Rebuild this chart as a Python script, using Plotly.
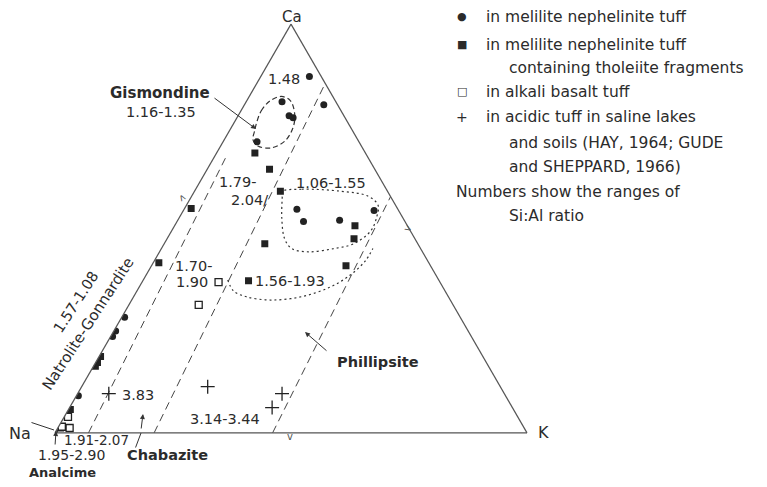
import plotly.graph_objects as go

# the page body has an 8 px margin, so the figure is drawn 16 px smaller
OFF = 8
W, H = 767 - 2 * OFF, 487 - 2 * OFF
FONT = "DejaVu Sans"
INK = "#2b2b2b"

# Zeolite compositions (percent Ca, Na, K)
circ_ca = [87.2, 80.3, 81.0, 77.6, 77.1, 71.2, 54.7, 51.7, 52.0, 54.4, 28.3, 24.9, 23.6, 9.1]
circ_na = [2.5, 2.9, 11.4, 11.6, 11.0, 21.6, 21.4, 21.5, 13.7, 5.2, 71.1, 74.7, 76.0, 90.5]
circ_k = [10.3, 16.8, 7.6, 10.8, 11.9, 7.2, 23.9, 26.8, 34.3, 40.4, 0.6, 0.4, 0.4, 0.4]

sq_ca = [68.5, 64.5, 59.1, 54.9, 50.7, 47.5, 46.3, 41.6, 37.2, 40.9, 18.7, 17.2, 16.3, 5.7]
sq_na = [23.4, 22.3, 22.7, 43.7, 11.1, 12.9, 32.4, 57.2, 40.4, 17.9, 81.0, 82.4, 83.3, 93.9]
sq_k = [8.1, 13.2, 18.2, 1.4, 38.2, 39.6, 21.3, 1.2, 22.4, 41.2, 0.3, 0.4, 0.4, 0.4]

open_ca = [36.9, 31.3, 3.9, 1.5, 1.2]
open_na = [46.9, 53.9, 95.3, 97.8, 96.3]
open_k = [16.2, 14.8, 0.8, 0.7, 2.5]

plus_ca = [9.6, 11.3, 9.6, 6.2, 0.5]
plus_na = [83.8, 62.0, 47.1, 50.9, 99.3]
plus_k = [6.6, 26.7, 43.3, 42.9, 0.2]

# field boundaries (dashed)
bounds = [
    ([0, 67.2], [92.9, 30.3], [7.1, 2.5]),
    ([0, 85.5], [79.0, 0.0], [21.0, 14.5]),
    ([0, 57.8], [53.9, 0.0], [46.1, 42.2]),
]

# Gismondine field (dashed ellipse)
gis_ca = [75.4, 78.8, 81.3, 82.3, 81.3, 77.8, 74.6, 71.4, 69.7, 70.2, 71.7, 74.1, 75.4]
gis_na = [19.7, 16.9, 13.7, 10.9, 9.5, 10.3, 12.3, 15.6, 19.4, 21.9, 22.2, 20.6, 19.7]
gis_k = [4.9, 4.3, 5.0, 6.8, 9.2, 11.9, 13.1, 13.0, 10.9, 7.9, 6.1, 5.3, 4.9]

# dotted groups
g1_ca = [59.1, 59.6, 59.1, 57.9, 55.7, 53.0, 49.5, 46.3, 45.1, 44.3, 45.1, 47.5, 52.5, 58.1, 59.1]
g1_na = [22.3, 17.9, 9.7, 4.7, 3.7, 5.3, 8.3, 13.5, 18.3, 24.2, 27.3, 27.6, 25.7, 22.8, 22.3]
g1_k = [18.6, 22.5, 31.2, 37.4, 40.6, 41.7, 42.2, 40.2, 36.6, 31.5, 27.6, 24.9, 21.8, 19.1, 18.6]

g2_ca = [37.4, 34.7, 33.3, 32.5, 33.3, 35.7, 38.7, 42.1, 45.1]
g2_na = [44.7, 44.8, 42.8, 38.0, 31.2, 23.8, 18.0, 13.2, 10.1]
g2_k = [17.9, 20.5, 23.9, 29.5, 35.5, 40.5, 43.3, 44.7, 44.8]

fig = go.Figure()

for ca, na, k in bounds:
    fig.add_trace(go.Scatterternary(a=ca, b=na, c=k, mode="lines",
                                    line=dict(color="#444", width=1, dash="8px,5px")))

fig.add_trace(go.Scatterternary(a=gis_ca, b=gis_na, c=gis_k, mode="lines",
                                line=dict(color="#333", width=1.2, dash="5px,3px", shape="spline")))
fig.add_trace(go.Scatterternary(a=g1_ca, b=g1_na, c=g1_k, mode="lines",
                                line=dict(color="#333", width=1.2, dash="2px,3px", shape="spline")))
fig.add_trace(go.Scatterternary(a=g2_ca, b=g2_na, c=g2_k, mode="lines",
                                line=dict(color="#333", width=1.2, dash="2px,3px", shape="spline")))

fig.add_trace(go.Scatterternary(a=circ_ca, b=circ_na, c=circ_k, mode="markers",
                                marker=dict(symbol="circle", size=7, color="#222")))
fig.add_trace(go.Scatterternary(a=sq_ca, b=sq_na, c=sq_k, mode="markers",
                                marker=dict(symbol="square", size=7, color="#222")))
fig.add_trace(go.Scatterternary(a=open_ca, b=open_na, c=open_k, mode="markers",
                                marker=dict(symbol="square-open", size=7, color="#222",
                                            line=dict(width=1.3))))
fig.add_trace(go.Scatterternary(a=plus_ca, b=plus_na, c=plus_k, mode="markers",
                                marker=dict(symbol="cross-thin-open", size=10, color="#222",
                                            line=dict(width=1.3, color="#222"))))

axis = dict(showticklabels=False, showgrid=False, ticks="", linecolor="#555",
            linewidth=1.2, title="")
fig.update_layout(
    width=W, height=H, margin=dict(l=0, r=0, t=0, b=0),
    paper_bgcolor="white", showlegend=False,
    ternary=dict(sum=100, bgcolor="white",
                 domain=dict(x=[(55 - OFF) / W, (527 - OFF) / W],
                             y=[1 - (433 - OFF) / H, 1 - (24 - OFF) / H]),
                 aaxis=axis, baxis=axis, caxis=axis),
)


def fx(x):
    return (x - OFF) / W


def fy(y):
    return 1 - (y - OFF) / H


def label(text, x, y, size=14, angle=0, xanchor="center", color=INK):
    fig.add_annotation(text=text, x=fx(x), y=fy(y), xref="paper", yref="paper",
                       showarrow=False, textangle=angle, xanchor=xanchor, yanchor="middle",
                       font=dict(family=FONT, size=size, color=color))


def arrow(x, y, ax, ay, head=2):
    fig.add_annotation(text="", x=fx(x), y=fy(y), xref="paper", yref="paper",
                       ax=ax - x, ay=ay - y, showarrow=True, arrowhead=head,
                       arrowwidth=1, arrowsize=1, arrowcolor="#333")


# corner labels
label("Ca", 292, 17, size=15)
label("Na", 20, 433, size=16)
label("K", 543, 432, size=16)

# legend
LS = 15.5
label("●", 462, 17, size=11)
label("in melilite nephelinite tuff", 484, 17, size=LS, xanchor="left")
label("■", 462, 45, size=11)
label("in melilite nephelinite tuff", 484, 45, size=LS, xanchor="left")
label("containing tholeiite fragments", 507, 68, size=LS, xanchor="left")
label("□", 462, 92, size=11)
label("in alkali basalt tuff", 484, 92, size=LS, xanchor="left")
label("+", 462, 117, size=14)
label("in acidic tuff in saline lakes", 484, 117, size=LS, xanchor="left")
label("and soils (HAY, 1964; GUDE", 507, 143, size=LS, xanchor="left")
label("and SHEPPARD, 1966)", 507, 167, size=LS, xanchor="left")
label("Numbers show the ranges of", 454, 192, size=LS, xanchor="left")
label("Si:Al ratio", 507, 216, size=LS, xanchor="left")

# field labels
label("<b>Gismondine</b>", 160, 93, size=15)
label("1.16-1.35", 161, 112, size=14.5)
label("1.48", 284, 79, size=14.5)
label("1.79-", 217, 182, size=14.5, xanchor="left")
label("2.04/", 229, 200, size=14.5, xanchor="left")
label("1.06-1.55", 331, 183, size=14.5)
label("1.70-", 173, 266, size=14.5, xanchor="left")
label("1.90", 174, 282, size=14.5, xanchor="left")
label("1.56-1.93", 290, 281, size=14.5)
label("Natrolite-Gonnardite", 88, 324, size=15, angle=-57)
label("1.57-1.08", 76, 302, size=14.5, angle=-57)
label("3.83", 138, 395, size=14.5)
label("3.14-3.44", 225, 419, size=14.5)
label("1.91-2.07", 96, 440, size=13.5)
label("1.95-2.90", 71, 455, size=14)
label("<b>Chabazite</b>", 167, 455, size=14.5)
label("<b>Analcime</b>", 62, 472, size=13)
label("<b>Phillipsite</b>", 378, 362, size=14.5)

# small boundary ticks
label("v", 290, 436, size=10, color="#555")
label("v", 407, 228, size=10, angle=-60, color="#555")
label("v", 183, 199, size=10, angle=150, color="#555")

# leaders
arrow(256, 129, 213, 97)
arrow(305, 332, 328, 352)
arrow(143, 414, 141, 430)
arrow(56, 431, 55, 446)
arrow(141, 433, 135, 449, head=0)
arrow(54, 430, 30, 422, head=0)

fig.write_html("out.html")
